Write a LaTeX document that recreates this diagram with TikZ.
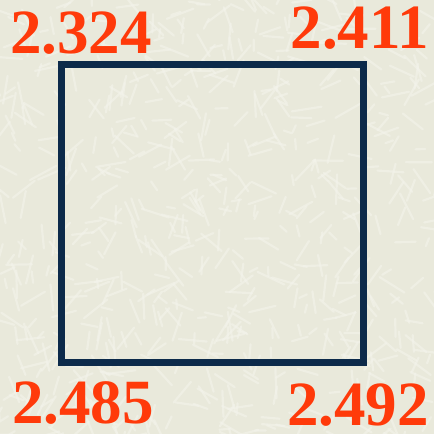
\documentclass[tikz,border=0pt]{standalone}
\usepackage{fontspec}
\setmainfont{Liberation Serif}
\definecolor{bgc}{HTML}{E9E9DB}
\definecolor{streak}{HTML}{F4F4EC}
\definecolor{navy}{HTML}{0C2A4A}
\definecolor{numred}{HTML}{FF3A0A}
\tikzset{
  num/.style={inner sep=0pt, text=numred, font=\fontsize{63}{63}\selectfont\bfseries},
  frame/.style={draw=navy, line width=7pt, line join=miter, outer sep=0pt, inner sep=0pt}
}
\begin{document}
\begin{tikzpicture}[x=1pt,y=-1pt]
\useasboundingbox (0,0) rectangle (434,434);
\fill[bgc] (0,0) rectangle (434,434);
\pgfmathsetseed{7}
\begin{scope}
\clip (0,0) rectangle (434,434);
\foreach \i in {1,...,700}{
  \pgfmathsetmacro{\px}{rnd*460-13}
  \pgfmathsetmacro{\py}{rnd*460-13}
  \pgfmathsetmacro{\ang}{rnd*180}
  \pgfmathsetmacro{\len}{8+rnd*22}
  \draw[streak, line width=2.2pt, opacity=0.55, line cap=round] (\px,\py) -- ++(\ang:\len);
}
\end{scope}
\node[frame, minimum width=302pt, minimum height=298pt, anchor=north west] (sq) at (61,64) {};
\node[num, anchor=base west] (tl) at (10,53) {2.324};
\node[num, anchor=base east] (tr) at (429,48) {2.411};
\node[num, anchor=base west] (bl) at (12,423) {2.485};
\node[num, anchor=base east] (br) at (429,425) {2.492};
\end{tikzpicture}
\end{document}
